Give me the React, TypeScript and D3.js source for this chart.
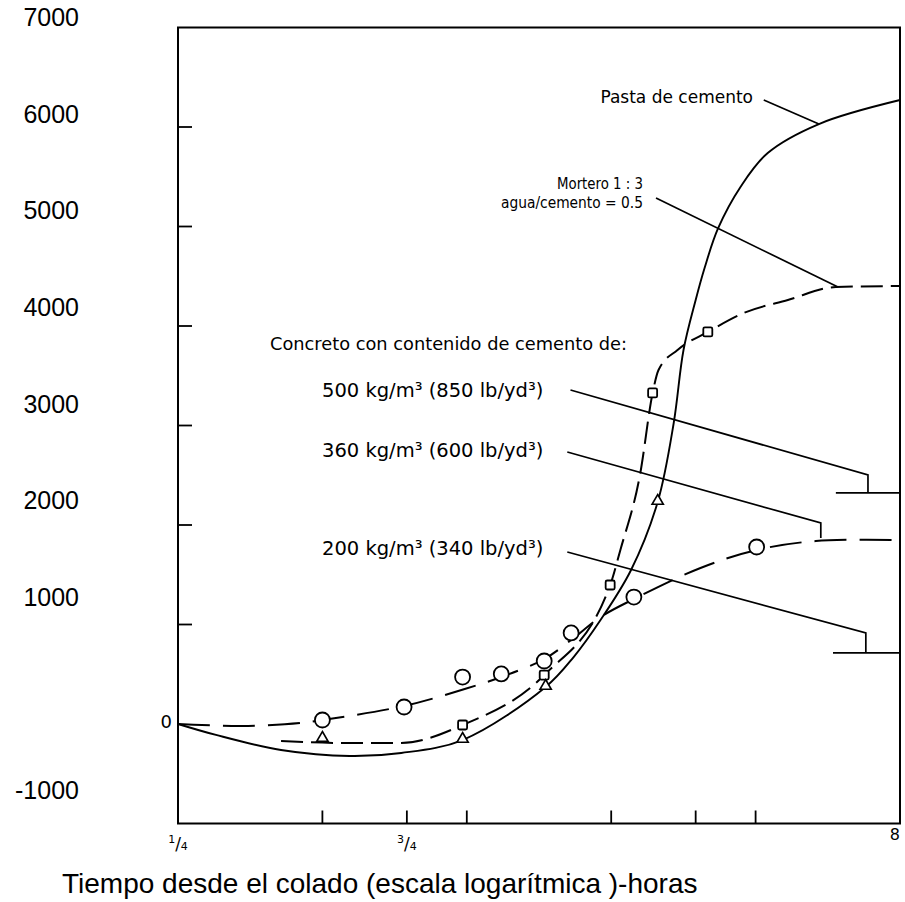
import React from 'react';
import * as d3 from 'd3';

const WIDTH = 905;
const HEIGHT = 902;

// eje y (sin unidades en la figura) y eje x en horas, escala logarítmica
const yLabelValues = [7000, 6000, 5000, 4000, 3000, 2000, 1000, -1000];
const yTickValues = [1000, 2000, 3000, 4000, 5000, 6000];
const xTickValues = [0.5, 0.75, 1, 2, 3, 4];
const xFractionLabels: [number, string, string][] = [
  [0.25, '1', '4'],
  [0.75, '3', '4'],
];
const xEndLabel: [number, string] = [8, '8'];

// [horas, valor]
const pastaLine: [number, number][] = [
  [0.25, 0], [0.3, -110], [0.41, -261], [0.57, -322], [0.73, -291],
  [0.98, -161], [1.46, 372], [1.67, 673], [1.9, 1045], [2.2, 1548],
  [2.5, 2231], [2.7, 3025], [2.83, 3759], [3.0, 4261], [3.13, 4580],
  [3.34, 4980], [3.72, 5397], [4.24, 5739], [5.42, 6030], [8.0, 6271],
];
const triangles: [number, number][] = [
  [0.5, -151], [0.98, -161], [1.46, 372], [2.5, 2231],
];

const morteroLine: [number, number][] = [
  [0.41, -171], [0.55, -191], [0.73, -191], [0.98, -10], [1.45, 492],
  [1.99, 1397], [2.09, 1749], [2.3, 2523], [2.44, 3327], [2.51, 3558],
  [2.75, 3759], [3.18, 3940], [3.78, 4131], [4.67, 4261], [5.88, 4392],
  [8.0, 4402],
];
const squares: [number, number][] = [
  [0.98, -10], [1.45, 492], [1.99, 1397], [2.44, 3327], [3.18, 3940],
];

const concreto360Line: [number, number][] = [
  [0.25, 0], [0.34, -20], [0.45, 10], [0.5, 40], [0.74, 181], [0.99, 352],
  [1.18, 472], [1.45, 653], [1.65, 844], [1.9, 1075], [2.23, 1256],
  [3.07, 1568], [4.02, 1749], [5.34, 1839], [8.0, 1849],
];
const circles: [number, number][] = [
  [0.5, 40], [0.74, 171], [0.98, 472], [1.18, 503], [1.45, 633],
  [1.65, 915], [2.23, 1276], [4.02, 1779],
];

// líneas de referencia de las etiquetas
const leaders: [number, number][][] = [
  [[4.16, 6271], [5.42, 6030]],
  [[2.48, 5286], [5.94, 4392]],
  [[1.645, 3357], [6.86, 2503], [6.86, 2322]],
  [[5.88, 2322], [8, 2322]],
  [[1.62, 2734], [5.47, 2020], [5.47, 1869]],
  [[1.62, 1729], [6.79, 915], [6.79, 714]],
  [[5.8, 714], [8, 714]],
];

const x = d3.scaleLog().domain([0.25, 8]).range([178, 900]);
const y = d3.scaleLinear().domain([-1000, 7000]).range([823.5, 27.5]);
// los números del eje y fueron sobrepuestos al escaneo y no coinciden con las marcas
const yLabel = d3.scaleLinear().domain([-1000, 7000]).range([790, 17]);

const smooth = d3
  .line<[number, number]>()
  .x((d) => x(d[0]))
  .y((d) => y(d[1]))
  .curve(d3.curveCatmullRom.alpha(0.5));

const curve = d3
  .line<[number, number]>()
  .x((d) => x(d[0]))
  .y((d) => y(d[1]))
  .curve(d3.curveMonotoneX);

const straight = d3
  .line<[number, number]>()
  .x((d) => x(d[0]))
  .y((d) => y(d[1]));

const sans = '"Liberation Sans", Arial, sans-serif';
const geo = '"DejaVu Sans", sans-serif';

export default function App() {
  const [x0, x1] = x.range();
  const [yb, yt] = y.range();
  const tri = d3.symbol().type(d3.symbolTriangle).size(55);

  return (
    <svg
      width={WIDTH}
      height={HEIGHT}
      style={{ position: 'absolute', left: 0, top: 0, background: '#fff' }}
    >
      <rect x={0} y={0} width={WIDTH} height={HEIGHT} fill="#fff" />

      {/* marco */}
      <rect x={x0} y={yt} width={x1 - x0} height={yb - yt} fill="none" stroke="#000" strokeWidth={2} />
      {yTickValues.map((v) => (
        <line key={v} x1={x0} x2={x0 + 14} y1={y(v)} y2={y(v)} stroke="#000" strokeWidth={1.8} />
      ))}
      {xTickValues.map((v) => (
        <line key={v} x1={x(v)} x2={x(v)} y1={yb} y2={yb - 13} stroke="#000" strokeWidth={1.8} />
      ))}

      {/* curvas */}
      <path d={smooth(pastaLine) ?? ''} fill="none" stroke="#000" strokeWidth={1.9} />
      <path d={curve(morteroLine) ?? ''} fill="none" stroke="#000" strokeWidth={2} strokeDasharray="22,8" />
      <path d={smooth(concreto360Line) ?? ''} fill="none" stroke="#000" strokeWidth={2} strokeDasharray="32,13" />

      {leaders.map((pts, i) => (
        <path key={i} d={straight(pts) ?? ''} fill="none" stroke="#000" strokeWidth={1.7} />
      ))}

      {/* marcadores */}
      {circles.map((d, i) => (
        <circle key={i} cx={x(d[0])} cy={y(d[1])} r={7.5} fill="#fff" stroke="#000" strokeWidth={1.8} />
      ))}
      {squares.map((d, i) => (
        <rect key={i} x={x(d[0]) - 4.5} y={y(d[1]) - 4.5} width={9} height={9} rx={1.5} fill="#fff" stroke="#000" strokeWidth={1.8} />
      ))}
      {triangles.map((d, i) => (
        <path key={i} d={tri() ?? ''} transform={`translate(${x(d[0])},${y(d[1]) - 1})`} fill="#fff" stroke="#000" strokeWidth={1.6} />
      ))}

      {/* textos de la figura */}
      <g fontFamily={geo} fill="#000">
        <text x={753} y={103} fontSize={17} textAnchor="end">Pasta de cemento</text>
        <text x={643} y={189} fontSize={15} textAnchor="end" textLength={86} lengthAdjust="spacingAndGlyphs">Mortero 1 : 3</text>
        <text x={643} y={208} fontSize={15} textAnchor="end" textLength={142} lengthAdjust="spacingAndGlyphs">agua/cemento = 0.5</text>
        <text x={270} y={350} fontSize={17.8}>Concreto con contenido de cemento de:</text>
        <text x={322} y={397} fontSize={19.5}>500 kg/m³ (850 lb/yd³)</text>
        <text x={322} y={457} fontSize={19.5}>360 kg/m³ (600 lb/yd³)</text>
        <text x={322} y={555} fontSize={19.5}>200 kg/m³ (340 lb/yd³)</text>
        <text x={172} y={y(0) + 4} fontSize={18} textAnchor="end">0</text>

        {xFractionLabels.map(([v, n, dnm]) => (
          <text key={v} x={x(v)} y={850} textAnchor="middle">
            <tspan fontSize={11} dy={-7}>{n}</tspan>
            <tspan fontSize={17} dy={7}>/</tspan>
            <tspan fontSize={11}>{dnm}</tspan>
          </text>
        ))}
        <text x={x(xEndLabel[0])} y={840} fontSize={16} textAnchor="end">{xEndLabel[1]}</text>
      </g>

      {/* números sobrepuestos */}
      <g fontFamily={sans} fill="#000" fontSize={25}>
        {yLabelValues.map((v) => (
          <text key={v} x={79} y={yLabel(v) + 9} textAnchor="end">{v}</text>
        ))}
        <text x={62} y={893} fontSize={28}>Tiempo desde el colado (escala logarítmica )-horas</text>
      </g>
    </svg>
  );
}
